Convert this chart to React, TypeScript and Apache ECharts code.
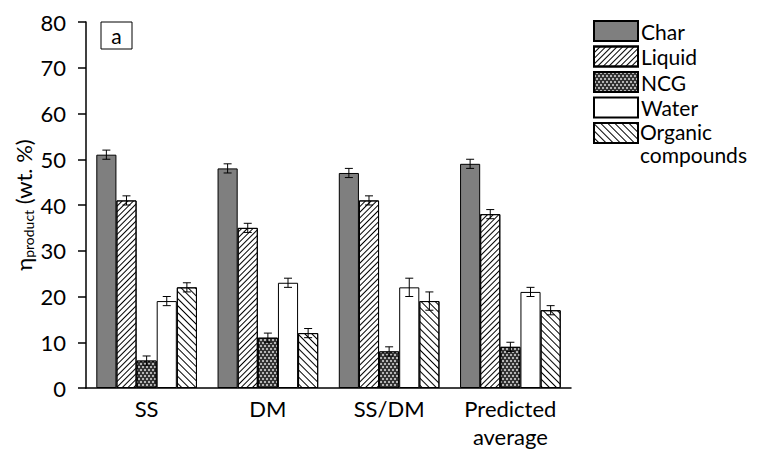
import React, { useEffect, useRef } from "react";
import * as echarts from "echarts";

const categories = ["SS", "DM", "SS/DM", "Predicted\naverage"];
const seriesNames = ["Char", "Liquid", "NCG", "Water", "Organic compounds"];
const charValues = [51, 48, 47, 49];
const liquidValues = [41, 35, 41, 38];
const ncgValues = [6, 11, 8, 9];
const waterValues = [19, 23, 22, 21];
const organicValues = [22, 12, 19, 17];
const charErr = [1, 1, 1, 1];
const liquidErr = [1, 1, 1, 1];
const ncgErr = [1, 1, 1, 1];
const waterErr = [1, 1, 2, 1];
const organicErr = [1, 1, 2, 1];
const yTicks = [0, 10, 20, 30, 40, 50, 60, 70, 80];

const FONT = "Lato";
const GAP_RATIO = 0.17;

export default function App() {
  const ref = useRef<HTMLDivElement>(null);
  useEffect(() => {
    if (!ref.current) return;
    const chart = echarts.init(ref.current, null, { renderer: "svg" });
    const values = [charValues, liquidValues, ncgValues, waterValues, organicValues];
    const errs = [charErr, liquidErr, ncgErr, waterErr, organicErr];
    const styles: any[] = [
      { color: "#7f7f7f", borderColor: "#000", borderWidth: 1 },
      {
        color: "#fff", borderColor: "#000", borderWidth: 1,
        decal: { symbol: "rect", symbolSize: 1, color: "#000", dashArrayX: [1, 0], dashArrayY: [0.9, 2.3], rotation: -Math.PI / 4 },
      },
      {
        color: "#333", borderColor: "#000", borderWidth: 1,
        decal: { symbol: "rect", symbolSize: 1, color: "#b5b5b5", dashArrayX: [[1.6, 1.6], [0, 1.6, 1.6, 0]], dashArrayY: [1.6, 0.001] },
      },
      { color: "#fff", borderColor: "#000", borderWidth: 1 },
      {
        color: "#fff", borderColor: "#000", borderWidth: 1,
        decal: { symbol: "rect", symbolSize: 1, color: "#000", dashArrayX: [1, 0], dashArrayY: [0.8, 3.6], rotation: Math.PI / 4 },
      },
    ];
    const barSeries = seriesNames.map((name, i) => ({
      name,
      type: "bar",
      data: values[i],
      barGap: "0%",
      barCategoryGap: (GAP_RATIO * 100) + "%",
      itemStyle: styles[i],
      emphasis: { disabled: true },
    }));
    const errData: number[][] = [];
    values.forEach((vals, s) => vals.forEach((v, c) => errData.push([c, s, v, errs[s][c]])));
    const errSeries = {
      type: "custom",
      name: "err",
      data: errData,
      encode: { x: 0, y: 2 },
      z: 10,
      silent: true,
      renderItem: (params: any, api: any) => {
        const c = api.value(0);
        const s = api.value(1);
        const v = api.value(2);
        const e = api.value(3);
        const band = api.size([1, 0])[0];
        const barW = (band * (1 - GAP_RATIO)) / 5;
        const center = api.coord([c, v]);
        const x = center[0] + (s - 2) * barW;
        const yTop = api.coord([c, v + e])[1];
        const yBot = api.coord([c, v - e])[1];
        const cap = 4;
        const st = { stroke: "#000", lineWidth: 1 };
        return {
          type: "group",
          children: [
            { type: "line", shape: { x1: x, y1: yTop, x2: x, y2: yBot }, style: st },
            { type: "line", shape: { x1: x - cap, y1: yTop, x2: x + cap, y2: yTop }, style: st },
            { type: "line", shape: { x1: x - cap, y1: yBot, x2: x + cap, y2: yBot }, style: st },
          ],
        };
      },
    };
    chart.setOption({
      animation: false,
      textStyle: { fontFamily: FONT },
      grid: { left: 86, right: 190, top: 22, bottom: 62, containLabel: false },
      legend: {
        orient: "vertical",
        left: 593,
        top: 20,
        padding: 0,
        icon: "rect",
        itemWidth: 44,
        itemHeight: 20,
        itemGap: 3.5,
        data: seriesNames,
        formatter: (n: string) => (n === "Organic compounds" ? " " : n),
        textStyle: { fontSize: 21, color: "#000", fontFamily: FONT, lineHeight: 20, padding: [0, 0, 0, -2] },
        selectedMode: false,
      },
      xAxis: {
        type: "category",
        data: categories,
        axisLine: { lineStyle: { color: "#000", width: 1.5 } },
        axisTick: { alignWithLabel: true, length: 7, lineStyle: { color: "#000", width: 1.5 } },
        axisLabel: { fontSize: 22, color: "#000", fontFamily: FONT, lineHeight: 28, margin: 6 },
      },
      yAxis: {
        type: "value",
        min: yTicks[0],
        max: yTicks[yTicks.length - 1],
        interval: 10,
        axisLine: { show: true, lineStyle: { color: "#000", width: 1.5 } },
        axisTick: { show: true, length: 8, lineStyle: { color: "#000", width: 1.5 } },
        splitLine: { show: false },
        axisLabel: { fontSize: 22, color: "#000", fontFamily: FONT, margin: 20 },
      },
      graphic: [
        { type: "rect", shape: { x: 101, y: 22, width: 31, height: 27 }, style: { fill: "#fff", stroke: "#000", lineWidth: 1 } },
        { type: "text", x: 116.5, y: 35.5, style: { text: "a", fontSize: 21, fontFamily: FONT, fill: "#000", align: "center", verticalAlign: "middle" } },
        { type: "text", x: 640, y: 120, style: { text: "Organic\ncompounds", fontSize: 21, lineHeight: 23, fontFamily: FONT, fill: "#000", align: "left", verticalAlign: "top" } },
        {
          type: "text",
          x: 23,
          y: 205,
          rotation: Math.PI / 2,
          style: {
            text: "{a|η}{b|product}{a| (wt. %)}",
            align: "center",
            verticalAlign: "middle",
            fill: "#000",
            rich: {
              a: { fontSize: 22, fontFamily: FONT, fill: "#000" },
              b: { fontSize: 14, fontFamily: FONT, fill: "#000", padding: [10, 0, 0, 0] },
            },
          },
        },
      ],
      series: [...barSeries, errSeries],
    });
    return () => chart.dispose();
  }, []);
  return <div ref={ref} style={{ width: 761, height: 450, position: "absolute", left: 0, top: 0 }} />;
}
